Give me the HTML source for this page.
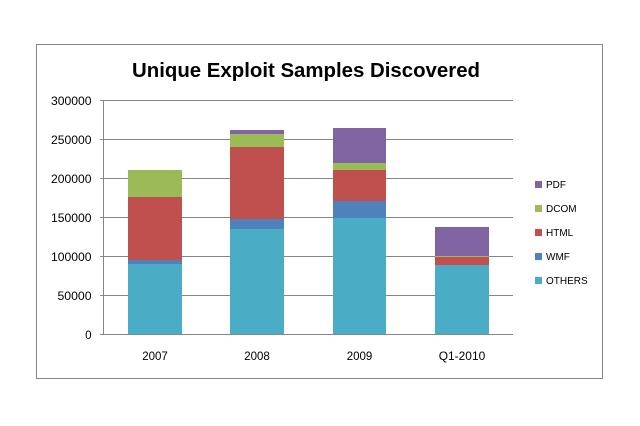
<!DOCTYPE html>
<html><head><meta charset="utf-8"><style>
html,body{margin:0;padding:0;background:#fff;}
svg{display:block;}
text{font-family:"Liberation Sans",sans-serif;fill:#000;}
</style></head><body>
<svg width="640" height="426" viewBox="0 0 640 426" xmlns="http://www.w3.org/2000/svg">
<rect x="0" y="0" width="640" height="426" fill="#fff"/>
<rect x="36.5" y="44.5" width="566" height="334" fill="#fff" stroke="#868686" stroke-width="1"/>
<text x="306" y="77" font-size="20" font-weight="bold" text-anchor="middle" textLength="348" lengthAdjust="spacingAndGlyphs">Unique Exploit Samples Discovered</text>
<g stroke="#868686" stroke-width="1">
<line x1="100" y1="100.5" x2="513" y2="100.5"/>
<line x1="100" y1="139.5" x2="513" y2="139.5"/>
<line x1="100" y1="178.5" x2="513" y2="178.5"/>
<line x1="100" y1="217.5" x2="513" y2="217.5"/>
<line x1="100" y1="256.5" x2="513" y2="256.5"/>
<line x1="100" y1="295.5" x2="513" y2="295.5"/>
<line x1="103.5" y1="100" x2="103.5" y2="335"/>
</g>
<!-- 2007 -->
<rect x="128" y="264" width="54" height="70.5" fill="#4BACC6"/>
<rect x="128" y="260" width="54" height="4" fill="#4F81BD"/>
<rect x="128" y="197" width="54" height="63" fill="#C0504D"/>
<rect x="128" y="170" width="54" height="27" fill="#9BBB59"/>
<!-- 2008 -->
<rect x="230" y="229" width="54" height="105.5" fill="#4BACC6"/>
<rect x="230" y="219" width="54" height="10" fill="#4F81BD"/>
<rect x="230" y="147" width="54" height="72" fill="#C0504D"/>
<rect x="230" y="134" width="54" height="13" fill="#9BBB59"/>
<rect x="230" y="130" width="54" height="4" fill="#8064A2"/>
<!-- 2009 -->
<rect x="333" y="218" width="53" height="116.5" fill="#4BACC6"/>
<rect x="333" y="201" width="53" height="17" fill="#4F81BD"/>
<rect x="333" y="170" width="53" height="31" fill="#C0504D"/>
<rect x="333" y="163" width="53" height="7" fill="#9BBB59"/>
<rect x="333" y="128" width="53" height="35" fill="#8064A2"/>
<!-- Q1-2010 -->
<rect x="435" y="265" width="54" height="69.5" fill="#4BACC6"/>
<rect x="435" y="257" width="54" height="8" fill="#C0504D"/>
<rect x="435" y="256" width="54" height="1" fill="#9BBB59"/>
<rect x="435" y="227" width="54" height="29" fill="#8064A2"/>
<line x1="100" y1="334.5" x2="513" y2="334.5" stroke="#868686" stroke-width="1"/>
<g font-size="11.5" text-anchor="end">
<text x="91.5" y="105" textLength="40.5" lengthAdjust="spacingAndGlyphs">300000</text>
<text x="91.5" y="144" textLength="40.5" lengthAdjust="spacingAndGlyphs">250000</text>
<text x="91.5" y="183" textLength="40.5" lengthAdjust="spacingAndGlyphs">200000</text>
<text x="91.5" y="222" textLength="40.5" lengthAdjust="spacingAndGlyphs">150000</text>
<text x="91.5" y="261" textLength="40.5" lengthAdjust="spacingAndGlyphs">100000</text>
<text x="91.5" y="300" textLength="34" lengthAdjust="spacingAndGlyphs">50000</text>
<text x="91.5" y="339">0</text>
</g>
<g font-size="11.5" text-anchor="middle">
<text x="155" y="360">2007</text>
<text x="257" y="360">2008</text>
<text x="359.5" y="360">2009</text>
<text x="462" y="360" textLength="46.5" lengthAdjust="spacingAndGlyphs">Q1-2010</text>
</g>
<g font-size="10">
<rect x="535" y="181" width="7" height="7" fill="#8064A2"/><text x="546" y="188">PDF</text>
<rect x="535" y="205" width="7" height="7" fill="#9BBB59"/><text x="546" y="212">DCOM</text>
<rect x="535" y="229" width="7" height="7" fill="#C0504D"/><text x="546" y="236">HTML</text>
<rect x="535" y="253" width="7" height="7" fill="#4F81BD"/><text x="546" y="260">WMF</text>
<rect x="535" y="277" width="7" height="7" fill="#4BACC6"/><text x="546" y="284">OTHERS</text>
</g>
</svg>
</body></html>
